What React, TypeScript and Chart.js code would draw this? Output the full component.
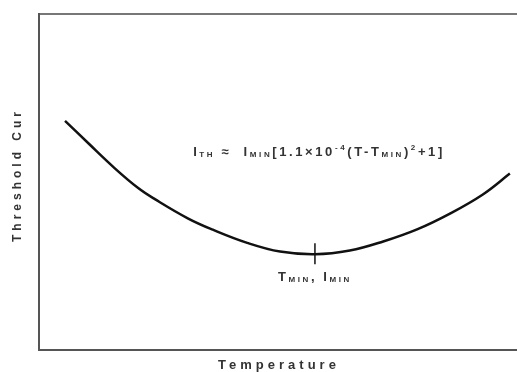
import React, { useEffect, useRef } from "react";
import { Chart, registerables } from "chart.js";

Chart.register(...registerables);

// Curve (temperature axis 0-100, current axis 0-100, arbitrary units)
const temperature = [5.3, 10.0, 15.5, 20.2, 23.6, 30.3, 35.4, 42.4, 49.1, 56.2, 63.3, 70.1, 77.0, 83.7, 90.4, 95.9];
const thresholdCurrent = [68.2, 61.6, 54.0, 48.2, 44.9, 39.2, 35.8, 31.9, 29.3, 28.5, 29.6, 32.3, 35.9, 40.6, 46.3, 52.5];

// Minimum marker (T_MIN, I_MIN)
const markerT = [56.2, 56.2];
const markerI = [31.8, 25.5];

const xTitle = "Temperature";
const yTitle = "Threshold Cur";

type Run = { t: string; k: "m" | "sub" | "sup" };
const formulaRuns: Run[] = [
  { t: "I", k: "m" },
  { t: "TH", k: "sub" },
  { t: " ≈  ", k: "m" },
  { t: "I", k: "m" },
  { t: "MIN", k: "sub" },
  { t: "[1.1×10", k: "m" },
  { t: "-4", k: "sup" },
  { t: "(T-T", k: "m" },
  { t: "MIN", k: "sub" },
  { t: ")", k: "m" },
  { t: "2", k: "sup" },
  { t: "+1]", k: "m" },
];
const minLabelRuns: Run[] = [
  { t: "T", k: "m" },
  { t: "MIN", k: "sub" },
  { t: ", ", k: "m" },
  { t: "I", k: "m" },
  { t: "MIN", k: "sub" },
];

const FAMILY = "'Liberation Sans', Arial, sans-serif";

function runFont(k: Run["k"], main: number) {
  const s = k === "m" ? main : Math.round(main * 0.6);
  return `bold ${s}px ${FAMILY}`;
}

function drawRuns(ctx: CanvasRenderingContext2D, runs: Run[], cx: number, baseline: number, main: number, spacing: string) {
  ctx.save();
  (ctx as any).letterSpacing = spacing;
  ctx.textBaseline = "alphabetic";
  ctx.textAlign = "left";
  let total = 0;
  const widths = runs.map((r) => {
    ctx.font = runFont(r.k, main);
    const w = ctx.measureText(r.t).width;
    total += w;
    return w;
  });
  let x = cx - total / 2;
  runs.forEach((r, i) => {
    ctx.font = runFont(r.k, main);
    const dy = r.k === "sub" ? 1 : r.k === "sup" ? -main * 0.45 : 0;
    ctx.fillText(r.t, x, baseline + dy);
    x += widths[i];
  });
  ctx.restore();
}

const textPlugin = {
  id: "textPlugin",
  afterDraw(chart: any) {
    const ctx: CanvasRenderingContext2D = chart.ctx;
    const xs = chart.scales.x;
    const ys = chart.scales.y;
    ctx.save();
    ctx.fillStyle = "#333";
    // formula
    drawRuns(ctx, formulaRuns, 319, 156, 13, "2.6px");
    // minimum label
    drawRuns(ctx, minLabelRuns, xs.getPixelForValue(markerT[0]), ys.getPixelForValue(markerI[1]) + 17, 13, "2.6px");
    // x title
    ctx.save();
    (ctx as any).letterSpacing = "4px";
    ctx.font = `bold 13px ${FAMILY}`;
    ctx.textAlign = "center";
    ctx.textBaseline = "middle";
    ctx.fillStyle = "#333";
    ctx.fillText(xTitle, 279, 365);
    ctx.restore();
    // y title
    ctx.save();
    (ctx as any).letterSpacing = "4px";
    ctx.font = `bold 12px ${FAMILY}`;
    ctx.translate(18, 175);
    ctx.rotate(-Math.PI / 2);
    ctx.textAlign = "center";
    ctx.textBaseline = "middle";
    ctx.fillStyle = "#333";
    ctx.fillText(yTitle, 0, 0);
    ctx.restore();
    ctx.restore();
  },
};

export default function App() {
  const ref = useRef<HTMLCanvasElement | null>(null);
  useEffect(() => {
    if (!ref.current) return;
    const chart = new Chart(ref.current, {
      type: "line",
      data: {
        datasets: [
          {
            data: temperature.map((t, i) => ({ x: t, y: thresholdCurrent[i] })),
            borderColor: "#111",
            borderWidth: 2.5,
            pointRadius: 0,
            tension: 0.4,
            fill: false,
          },
          {
            data: markerT.map((t, i) => ({ x: t, y: markerI[i] })),
            borderColor: "#111",
            borderWidth: 1.5,
            pointRadius: 0,
            fill: false,
          },
        ],
      },
      options: {
        animation: false,
        responsive: false,
        events: [],
        layout: { padding: { left: 31, top: 6, bottom: 14, right: 0 } },
        plugins: { legend: { display: false }, tooltip: { enabled: false }, title: { display: false } },
        scales: {
          x: {
            type: "linear",
            min: 0,
            max: 100,
            ticks: { display: false },
            grid: { display: false },
            border: { display: true, color: "#555", width: 2 },
          },
          x2: {
            type: "linear",
            position: "top",
            min: 0,
            max: 100,
            ticks: { display: false },
            grid: { display: false },
            border: { display: true, color: "#777", width: 2 },
          },
          y: {
            type: "linear",
            min: 0,
            max: 100,
            ticks: { display: false },
            grid: { display: false },
            border: { display: true, color: "#555", width: 2 },
          },
        },
      },
      plugins: [textPlugin],
    });
    return () => chart.destroy();
  }, []);
  return (
    <div style={{ position: "fixed", left: 0, top: 0, width: 517, height: 372, overflow: "hidden", background: "#fff" }}>
      <canvas ref={ref} width={530} height={372} style={{ display: "block", width: 530, height: 372 }} />
    </div>
  );
}
